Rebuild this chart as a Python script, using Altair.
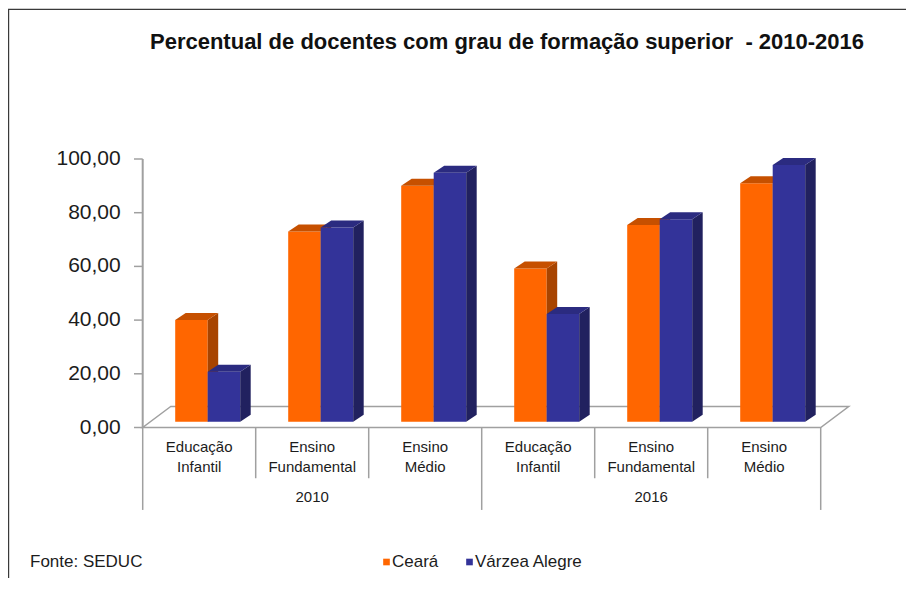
import altair as alt
import pandas as pd

# ---------------- data ----------------
anos = ["2010", "2016"]
niveis = ["Educação Infantil", "Ensino Fundamental", "Ensino Médio"]
series = ["Ceará", "Várzea Alegre"]
ceara = [37.9, 70.8, 87.9, 57.1, 73.3, 88.8]
varzea = [18.6, 72.3, 92.7, 40.1, 75.4, 95.6]
y_ticks = [0, 20, 40, 60, 80, 100]
y_tick_labels = ["0,00", "20,00", "40,00", "60,00", "80,00", "100,00"]
titulo = "Percentual de docentes com grau de formação superior\u00a0 - 2010-2016"
fonte = "Fonte: SEDUC"

# ---------------- geometry / style ----------------
FONT = "Liberation Sans"
W, H = 898, 570
SLOT = 113.0   # px per category slot
VPX = 2.685    # px per percentage point
X0 = 134.7     # px of first slot edge inside plot
Y0 = 419.5     # px of value zero inside plot

xs = alt.Scale(domain=[-X0 / SLOT, (W - X0) / SLOT], nice=False, zero=False)
ys = alt.Scale(domain=[(Y0 - H) / VPX, Y0 / VPX], nice=False, zero=False)

BW = 32.5 / SLOT      # bar width
SHX = 8.5 / SLOT      # bar depth shift x
SHY = 5.8 / VPX       # bar depth shift y
DX = 10.5 / SLOT      # bar depth x
DY = 7.0 / VPX        # bar depth y
FDX = 28 / SLOT       # floor depth x
FDY = 21 / VPX        # floor depth y

front_col = {"Ceará": "#FF6600", "Várzea Alegre": "#333399"}
side_col = {"Ceará": "#A84400", "Várzea Alegre": "#21215F"}
top_col = {"Ceará": "#C65000", "Várzea Alegre": "#2B2B80"}
GRID = "#A0A0A0"
TXT = "#1C1C1C"

# ---------------- tables ----------------
vals = {"Ceará": ceara, "Várzea Alegre": varzea}
front_rows, side_rows, top_rows = [], [], []
for s_i, s in enumerate(series):
    for k in range(6):
        v = vals[s][k]
        left = k + 0.5 + SHX + (-BW if s_i == 0 else 0.0)
        right = left + BW
        bot = SHY
        top = SHY + v
        bid = f"{s}-{k}"
        front_rows.append(dict(serie=s, bid=bid, x=left, x2=right, y=bot, y2=top))
        side_rows.append(dict(serie=s, bid=bid, x=right, y=bot, y2=top))
        side_rows.append(dict(serie=s, bid=bid, x=right + DX, y=bot + DY, y2=top + DY))
        top_rows.append(dict(serie=s, bid=bid, y=top, x=left, x2=right))
        top_rows.append(dict(serie=s, bid=bid, y=top + DY, x=left + DX, x2=right + DX))
front_df = pd.DataFrame(front_rows)
side_df = pd.DataFrame(side_rows)
top_df = pd.DataFrame(top_rows)

floor_df = pd.DataFrame({"y": [0, FDY], "x": [0, FDX], "x2": [6, 6 + FDX]})

sep_df = pd.DataFrame({
    "x": list(range(7)),
    "y": [0] * 7,
    "y2": [(-30.7 if k % 3 == 0 else -18.9) for k in range(7)],
})

cat_df = pd.DataFrame({
    "x": [k + 0.5 for k in range(6)],
    "y": [-7.4] * 6,
    "t": [niveis[k % 3] for k in range(6)],
})
ano_df = pd.DataFrame({"x": [1.5, 4.5], "y": [-25.9, -25.9], "t": anos})

yt_df = pd.DataFrame({"y": y_ticks, "t": y_tick_labels, "x": [0] * 6, "x1": [-8.7 / SLOT] * 6})
yaxis_df = pd.DataFrame({"x": [0], "y": [0], "y2": [100]})

X = lambda f: alt.X(f, type="quantitative", scale=xs, axis=None)
Y = lambda f: alt.Y(f, type="quantitative", scale=ys, axis=None)

# ---------------- layers ----------------
floor = alt.Chart(floor_df).mark_area(
    orient="horizontal", fill="white", stroke=GRID, strokeWidth=1.5
).encode(y=Y("y"), x=X("x"), x2="x2")

seps = alt.Chart(sep_df).mark_rule(color=GRID, strokeWidth=1.5).encode(
    x=X("x"), y=Y("y"), y2="y2")

yaxis = alt.Chart(yaxis_df).mark_rule(color=GRID, strokeWidth=2).encode(
    x=X("x"), y=Y("y"), y2="y2")
yticks = alt.Chart(yt_df).mark_rule(color=GRID, strokeWidth=1.5).encode(
    x=X("x1"), x2="x", y=Y("y"))
ylabels = alt.Chart(yt_df).mark_text(
    align="right", baseline="middle", dx=-22, font=FONT, fontSize=21, color=TXT
).encode(x=X("x"), y=Y("y"), text="t")

cats = alt.Chart(cat_df).mark_text(
    align="center", baseline="middle", lineBreak=" ", lineHeight=19.5,
    font=FONT, fontSize=15, color=TXT
).encode(x=X("x"), y=Y("y"), text="t")
anos_txt = alt.Chart(ano_df).mark_text(
    align="center", baseline="middle", font=FONT, fontSize=15, color=TXT
).encode(x=X("x"), y=Y("y"), text="t")

bar_layers = []
for s in series:
    fr = alt.Chart(front_df).transform_filter(alt.datum.serie == s).mark_rect(
        color=front_col[s]).encode(x=X("x"), x2="x2", y=Y("y"), y2="y2")
    sd = alt.Chart(side_df).transform_filter(alt.datum.serie == s).mark_area(
        color=side_col[s]).encode(x=X("x"), y=Y("y"), y2="y2", detail="bid:N")
    tp = alt.Chart(top_df).transform_filter(alt.datum.serie == s).mark_area(
        orient="horizontal", color=top_col[s]).encode(
        y=Y("y"), x=X("x"), x2="x2", detail="bid:N")
    bar_layers += [fr, sd, tp]

# legend (drawn as marks so it sits exactly where the original has it)
leg_df = pd.DataFrame({
    "serie": series,
    "sx": [378.5, 461.5],
    "tx": [384, 467],
})
leg_sym = alt.Chart(leg_df).mark_square(size=44, opacity=1).encode(
    x=alt.X("sx:Q", scale=None, axis=None), y=alt.value(554),
    color=alt.Color("serie:N", scale=alt.Scale(domain=series,
                    range=[front_col[s] for s in series]), legend=None))
leg_txt = alt.Chart(leg_df).mark_text(
    align="left", baseline="middle", font=FONT, fontSize=17, color=TXT
).encode(x=alt.X("tx:Q", scale=None, axis=None), y=alt.value(554), text="serie:N")

one = alt.Data(values=[{"a": 1}])
title = alt.Chart(one).mark_text(
    text=titulo, align="center", baseline="middle", font=FONT, fontSize=22,
    fontWeight="bold", color="#111111"
).encode(x=alt.value(499), y=alt.value(34))
source = alt.Chart(one).mark_text(
    text=fonte, align="left", baseline="middle", font=FONT, fontSize=17, color=TXT
).encode(x=alt.value(22), y=alt.value(554))
frame_l = alt.Chart(one).mark_rule(color="#3A3A3A", strokeWidth=1.2).encode(
    x=alt.value(0.6), y=alt.value(1), y2=alt.value(H))
frame_t = alt.Chart(one).mark_rule(color="#3A3A3A", strokeWidth=1.2).encode(
    x=alt.value(0), x2=alt.value(W), y=alt.value(1.3))

chart = alt.layer(
    frame_l, frame_t, floor, seps, yaxis, yticks, ylabels, cats, anos_txt,
    *bar_layers, leg_sym, leg_txt, title, source
).properties(
    width=W, height=H, autosize=alt.AutoSizeParams(type="none"), padding=0
).resolve_scale(x="independent").configure_view(stroke=None)

chart.save("out.html", embed_options={"renderer": "svg", "actions": False})
